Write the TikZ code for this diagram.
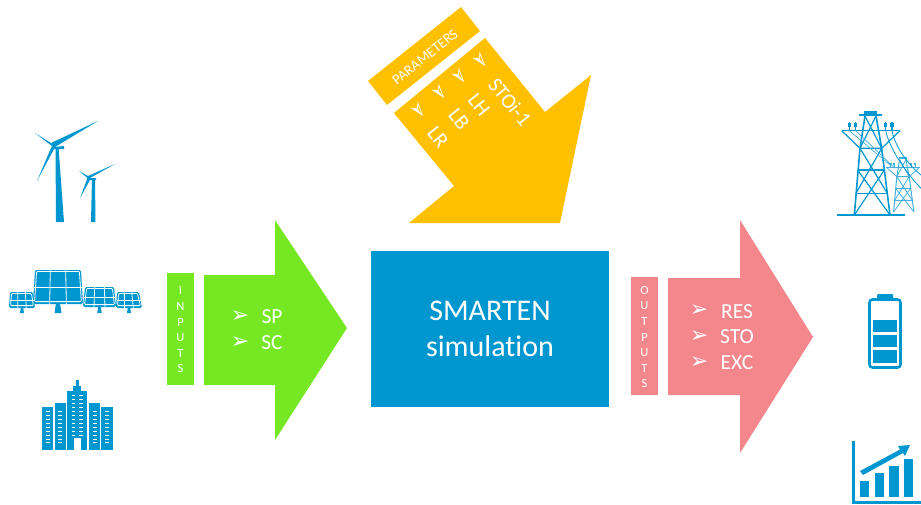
\documentclass[tikz,border=0pt]{standalone}
\usepackage{fontspec}
\usetikzlibrary{calc}
\setmainfont{Carlito}[Ligatures=CommonOff]
\newfontfamily\symfont{DejaVu Sans}
\definecolor{iconblue}{HTML}{0097D0}
\definecolor{lightblue}{HTML}{45AEDB}
\definecolor{boxblue}{HTML}{0096CF}
\definecolor{sunyellow}{HTML}{FFC000}
\definecolor{leafgreen}{HTML}{75E823}
\definecolor{rosepink}{HTML}{F4878C}
\tikzset{
  whitetext/.style={text=white,inner sep=0pt,outer sep=0pt},
  label22/.style={whitetext,font=\fontsize{21.5}{22}\selectfont},
  label21/.style={whitetext,font=\fontsize{21}{22}\selectfont},
  bulletmark/.style={whitetext,font=\symfont\fontsize{22}{22}\selectfont},
  sidetext/.style={whitetext,font=\fontsize{12.5}{15.6}\selectfont,align=center},
  icon/.style={fill=iconblue,draw=none},
  gridline/.style={draw=white,line width=0.8pt},
}
% solar panel: top-left x, top-right x, bottom-left x, bottom-right x, top y, bottom y, stem x, stem half width
\newcommand{\solarpanel}[8]{
  \fill[icon,rounded corners=1.5pt] (#1,#5) -- (#2,#5) -- (#4,#6) -- (#3,#6) -- cycle;
  \draw[gridline,rounded corners=1pt] ($(#1,#5)+(1.6,1.4)$) -- ($(#2,#5)+(-1.6,1.4)$) -- ($(#4,#6)+(-1.6,-2.4)$) -- ($(#3,#6)+(1.6,-2.4)$) -- cycle;
  \foreach \t in {0.333,0.667}{
    \draw[gridline] ($(#1,#5)!\t!(#2,#5)$) -- ($(#3,#6)!\t!(#4,#6)$);
  }
  \draw[gridline] ($(#1,#5)!0.5!(#3,#6)$) -- ($(#2,#5)!0.5!(#4,#6)$);
  \fill[icon] (#7-#8*0.6,#6) -- (#7+#8*0.6,#6) -- (#7+#8,313) -- (#7-#8,313) -- cycle;
}
% pylon: colour, main line width, thin line width
\newcommand{\pylon}[3]{
  \begin{scope}[draw=#1]
    \draw[line width=#2] (135,48) -- (120,145) -- (103,345);
    \draw[line width=#2] (168,48) -- (185,145) -- (210,345);
    \draw[line width=#2] (65,92) -- (240,92);
    \draw[line width=#3] (65,92) -- (120,145) -- (185,145) -- (240,92);
    \draw[line width=#3] (135,48) -- (185,145) (168,48) -- (120,145);
    \draw[line width=#3] (113,210) -- (193,210) (108,280) -- (202,280);
    \draw[line width=#3] (120,145) -- (202,280) (185,145) -- (108,280) (113,210) -- (210,345) (193,210) -- (103,345);
    \foreach \ix in {88,107,197,216}{
      \draw[line width=#3] (\ix,66) -- (\ix,92) (\ix-5,72) -- (\ix+5,72) (\ix-5,78) -- (\ix+5,78);
    }
  \end{scope}
}
\begin{document}
\begin{tikzpicture}[x=1pt,y=-1pt]
\useasboundingbox (0,0) rectangle (921,504);
\clip (0,0) rectangle (921,504);

% wind turbines
\fill[icon] (55.5,147) -- (58.5,147) -- (64,222) -- (56,222) -- cycle;
\fill[icon] (51,143) -- (98,121) -- (55,147) -- (64,146) -- (64,149) -- (54,149) -- (37,181) -- (51,148) -- (52,146) -- (35,133) -- cycle;
\fill[icon] (92,179) -- (95,179) -- (95.5,222) -- (91,222) -- cycle;
\fill[icon] (88,176) -- (115,164) -- (90,178) -- (96,178) -- (96,180) -- (90,180) -- (80,198) -- (87.5,178) -- (79,171) -- cycle;

% solar panels
\solarpanel{35}{81}{33}{83}{270}{304}{58}{3.5}
\solarpanel{10}{33}{9}{35}{292}{308}{22}{2}
\solarpanel{85}{114}{83}{116}{287}{307}{99.5}{2.2}
\solarpanel{117}{139}{116}{142}{292}{308}{129}{2}

% office towers
\fill[icon] (42,407) rectangle (53,450);
\fill[icon] (55,403) rectangle (66,450);
\fill[icon] (67,391) rectangle (87,450);
\fill[icon] (89,403) rectangle (100,450);
\fill[icon] (101,407) rectangle (113,450);
\fill[icon] (73,386) rectangle (81,391);
\fill[icon] (76,380) rectangle (79,386);
\fill[white] (74,438) rectangle (81,450);
\foreach \wx in {46,58,92.5,105}{
  \foreach \wy in {411,415,419,423,427,431,435,439,442}{
    \fill[white] (\wx,\wy) rectangle ++(4,1.4);
  }
}
\foreach \wx in {71.5,79}{
  \foreach \wy in {395,399,403,407,411,415,419,423,427,431,435}{
    \fill[white] (\wx,\wy) rectangle ++(3.6,1.4);
  }
}

% parameters arrow
\fill[sunyellow] (485,38) -- (545,112) -- (591,75) -- (560,223) -- (409,223) -- (454,186) -- (394,113) -- cycle;
\fill[sunyellow] (461,7) -- (480,31) -- (387,105) -- (368,81) -- cycle;
\node[whitetext,rotate=38.5,font=\fontsize{14.5}{15}\selectfont] (parameters) at (425,57) {PARAMETERS};
\node[bulletmark,rotate=-51] (bp1) at (480,61) {➢};
\node[bulletmark,rotate=-51] (bp2) at (459,77) {➢};
\node[bulletmark,rotate=-51] (bp3) at (439,93) {➢};
\node[bulletmark,rotate=-51] (bp4) at (418,111) {➢};
\node[label21,rotate=-51] (stoprev) at (510,102) {STOi-1};
\node[label21,rotate=-51] (lh) at (479,105) {LH};
\node[label21,rotate=-51] (lb) at (459,119) {LB};
\node[label21,rotate=-51] (lr) at (438,137) {LR};

% inputs
\fill[leafgreen] (204,275) -- (275,275) -- (275,220) -- (347,328) -- (275,440) -- (275,385) -- (204,385) -- cycle;
\node[fill=leafgreen,minimum width=27pt,minimum height=112pt,inner sep=0pt] (inputbox) at (180.5,329) {};
\node[sidetext] (inputs) at (180.5,330) {I\\N\\P\\U\\T\\S};
\node[bulletmark] (bi1) at (240,317) {➢};
\node[bulletmark] (bi2) at (240,343) {➢};
\node[label22] (sp) at (272,317) {SP};
\node[label22] (sc) at (272,343) {SC};

% simulation
\node[fill=boxblue,minimum width=238pt,minimum height=156pt,inner sep=0pt,text=white,align=center,font=\fontsize{30}{36}\selectfont] (sim) at (490,329) {SMARTEN\\simulation};

% outputs
\fill[rosepink] (668,278) -- (740,278) -- (740,220) -- (813,337) -- (740,453) -- (740,395) -- (668,395) -- cycle;
\node[fill=rosepink,minimum width=27pt,minimum height=118pt,inner sep=0pt] (outputbox) at (644.5,336) {};
\node[sidetext] (outputs) at (644.5,337) {O\\U\\T\\P\\U\\T\\S};
\node[bulletmark] (bo1) at (699,311) {➢};
\node[bulletmark] (bo2) at (699,337) {➢};
\node[bulletmark] (bo3) at (699,363) {➢};
\node[label22] (res) at (737,312) {RES};
\node[label22] (sto) at (737,337) {STO};
\node[label22] (exc) at (737,363) {EXC};

% pylons
\begin{scope}[shift={(874,151)},x=0.19pt,y=-0.1767pt]
  \pylon{lightblue}{1pt}{0.8pt}
  \fill[lightblue] (130,35) rectangle (172,48);
\end{scope}
\begin{scope}[shift={(820,100)},x=0.3333pt,y=-0.3333pt]
  \pylon{iconblue}{1.6pt}{1.2pt}
  \fill[iconblue] (132,34) rectangle (172,44);
  \fill[iconblue] (118,43) rectangle (186,49);
  \fill[iconblue] (50,343) rectangle (256,349);
  \draw[iconblue,line width=0.8pt] (197,92) .. controls (210,150) and (260,220) .. (303,265);
  \draw[iconblue,line width=0.8pt] (216,92) .. controls (225,140) and (265,195) .. (303,225);
  \draw[lightblue,line width=0.7pt] (88,92) -- (210,195) (107,92) -- (225,205);
\end{scope}

% battery
\draw[iconblue,line width=2.6pt,rounded corners=3pt] (869.5,299.5) rectangle (900.5,367.5);
\fill[iconblue,rounded corners=1pt] (877,294) -- (893,294) -- (893,299) -- (877,299) -- cycle;
\fill[iconblue] (873,320) rectangle (897,332);
\fill[iconblue] (873,335) rectangle (897,347);
\fill[iconblue] (873,350) rectangle (897,363);

% growth chart
\draw[iconblue,line width=2.6pt] (853.5,441) -- (853.5,502.5) -- (921,502.5);
\fill[iconblue] (860,481) rectangle (869,497);
\fill[iconblue] (875,473) rectangle (884,497);
\fill[iconblue] (889,466) rectangle (899,497);
\fill[iconblue] (904,459) rectangle (913,497);
\fill[iconblue] (860,471) -- (900,449.5) -- (898,446) -- (910,445) -- (905,456) -- (903,453) -- (863,475) -- cycle;
\end{tikzpicture}
\end{document}
